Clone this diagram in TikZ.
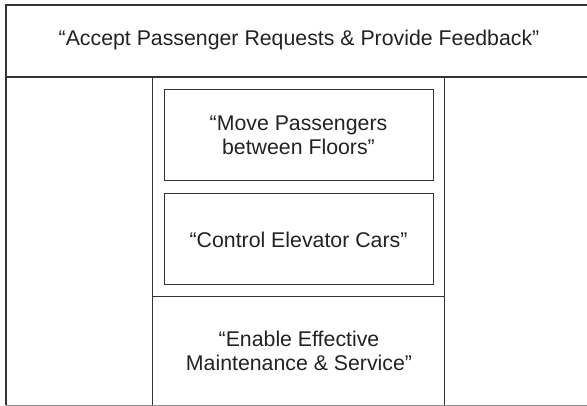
\documentclass[tikz,border=0pt]{standalone}
\usepackage{fontspec}
\setmainfont{Liberation Sans}
\definecolor{ink}{HTML}{222222}
\definecolor{rule}{HTML}{333333}
\definecolor{lightrule}{HTML}{8A8A8A}
\begin{document}
\begin{tikzpicture}[x=1pt,y=-1pt,
  label text/.style={text=ink, align=center, inner sep=0pt,
    font=\fontsize{21.3}{24.5}\selectfont},
  fnbox/.style={draw=rule, line width=1pt, minimum width=269pt,
    minimum height=91pt, label text},
  thick rule/.style={draw=rule, line width=2pt},
  thin rule/.style={draw=rule, line width=1pt}]
  \useasboundingbox (0,0) rectangle (587,406);

  % outer frame (open on the right)
  \draw[thick rule] (6,5) -- (587,5);
  \draw[thick rule] (6,4) -- (6,405);
  \draw[draw=lightrule, line width=1pt] (6,405) -- (587,405);

  % header row
  \draw[thin rule, line width=1.2pt] (6,77) -- (587,77);
  \node[label text] (accept) at (299,40)
    {“Accept Passenger Requests \& Provide Feedback”};

  % middle column
  \draw[thin rule] (152,77) -- (152,405);
  \draw[thin rule] (444,77) -- (444,405);
  \draw[thin rule] (152,297) -- (444,297);

  \node[fnbox] (move) at (298.5,135.5)
    {“Move Passengers\\between Floors”};
  \node[fnbox] (control) at (298.5,239.5)
    {“Control Elevator Cars”};
  \node[label text] (maint) at (299,351)
    {“Enable Effective\\Maintenance \& Service”};
\end{tikzpicture}
\end{document}
